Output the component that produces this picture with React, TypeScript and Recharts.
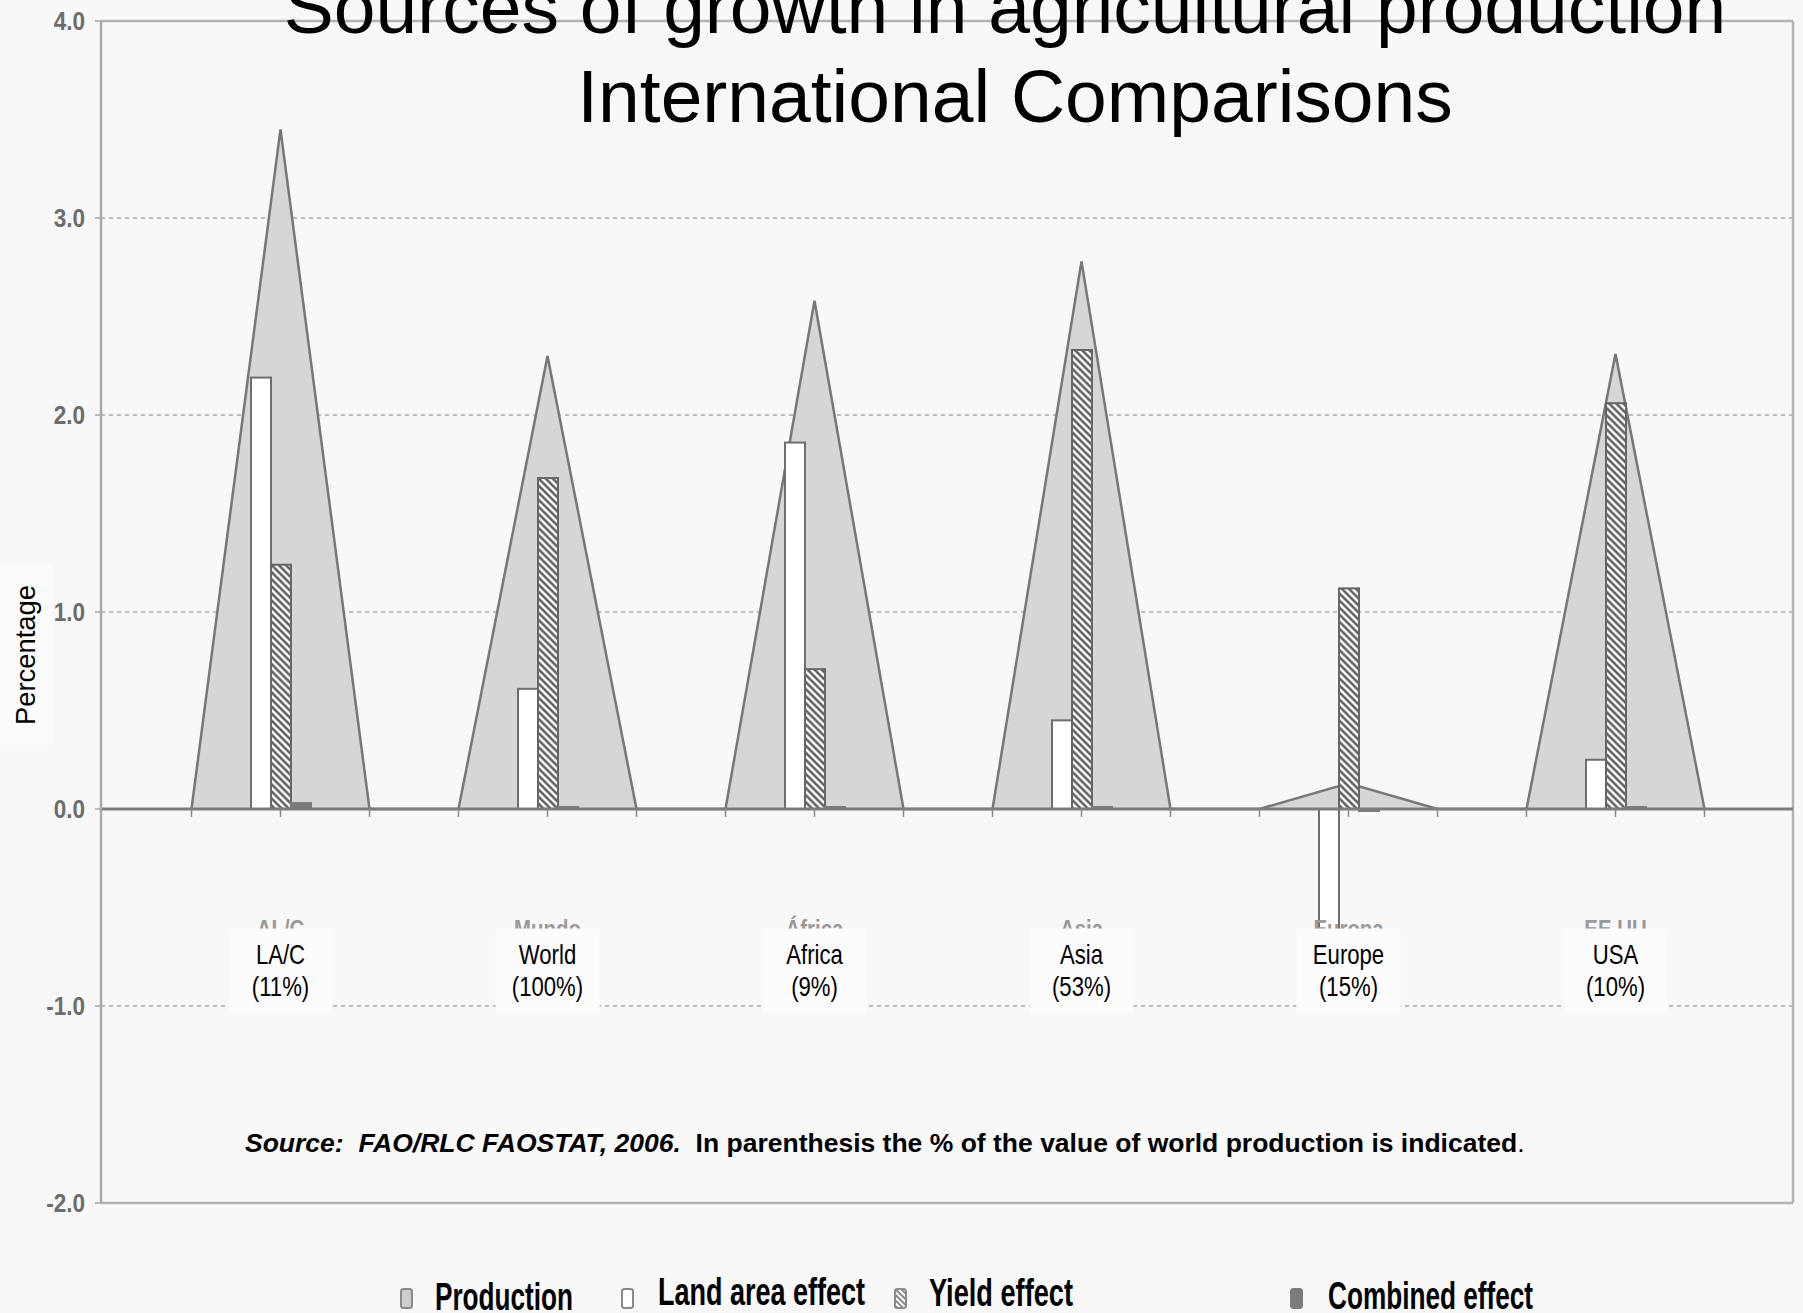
import React from 'react';
import {
  ComposedChart,
  Area,
  Bar,
  XAxis,
  YAxis,
  CartesianGrid,
  ReferenceLine,
  ReferenceDot,
  Legend,
} from 'recharts';

// ---------------- data ----------------
const regions = ['LA/C', 'World', 'Africa', 'Asia', 'Europe', 'USA'];
const shareLabels = ['(11%)', '(100%)', '(9%)', '(53%)', '(15%)', '(10%)'];
const originalLabels = ['AL/C', 'Mundo', 'África', 'Asia', 'Europa', 'EE.UU'];
const productionGrowth = [3.45, 2.3, 2.58, 2.78, 0.13, 2.31];
const landAreaEffect = [2.19, 0.61, 1.86, 0.45, -0.98, 0.25];
const yieldEffect = [1.24, 1.68, 0.71, 2.33, 1.12, 2.06];
const combinedEffect = [0.03, 0.01, 0.01, 0.01, -0.01, 0.01];
const yTicks = [-2, -1, 0, 1, 2, 3, 4];

type Row = {
  key: string;
  production: number;
  land?: number;
  yieldE?: number;
  combined?: number;
};

// each region: base-left point, peak point (with the bars), base-right point
const data: Row[] = regions.flatMap((r, i) => [
  { key: `${r} start`, production: 0 },
  {
    key: r,
    production: productionGrowth[i],
    land: landAreaEffect[i],
    yieldE: yieldEffect[i],
    combined: combinedEffect[i],
  },
  { key: `${r} end`, production: 0 },
]);

const FONT = "'Liberation Sans', Arial, Helvetica, sans-serif";
const BG = '#f8f8f8';

// ---------------- pieces ----------------
const makeBarShape = (dataKey: string, fill: string, stroke: string) => (props: any) => {
  const { x, y, width, height, payload } = props;
  if (!payload || payload[dataKey] == null || !width) return null;
  const top = Math.min(y, y + height);
  const h = Math.max(Math.abs(height), 1.5);
  return <rect x={x} y={top} width={width} height={h} fill={fill} stroke={stroke} strokeWidth={2} />;
};

const YTick = (props: any) => {
  const { x, y, payload } = props;
  return (
    <g transform={`translate(${x},${y})`}>
      <text
        transform="scale(0.9,1)"
        textAnchor="end"
        dy="0.36em"
        fontFamily={FONT}
        fontWeight="bold"
        fontSize={25}
        fill="#6c6c6c"
      >
        {Number(payload.value).toFixed(1)}
      </text>
    </g>
  );
};

const makeLabelBox = (i: number) => (props: any) => {
  const { cx, cy } = props;
  if (cx == null || cy == null) return null;
  return (
    <g>
      <g transform={`translate(${cx},${cy - 34}) scale(0.85,1)`}>
        <text textAnchor="middle" fontFamily={FONT} fontWeight="bold" fontSize={24} fill="#999999">
          {originalLabels[i]}
        </text>
      </g>
      <rect x={cx - 52} y={cy - 42} width={104} height={84} fill="#fcfcfc" />
      <g transform={`translate(${cx},${cy - 7}) scale(0.82,1)`}>
        <text textAnchor="middle" fontFamily={FONT} fontSize={27} fill="#000">
          {regions[i]}
        </text>
      </g>
      <g transform={`translate(${cx},${cy + 25}) scale(0.82,1)`}>
        <text textAnchor="middle" fontFamily={FONT} fontSize={27} fill="#000">
          {shareLabels[i]}
        </text>
      </g>
    </g>
  );
};

const legendItems = [
  { label: 'Production', kind: 'production', sx: 401, tx: 435, ty: 1310, tw: 138 },
  { label: 'Land area effect', kind: 'land', sx: 622, tx: 658, ty: 1305, tw: 207 },
  { label: 'Yield effect', kind: 'yield', sx: 895, tx: 929, ty: 1306, tw: 144 },
  { label: 'Combined effect', kind: 'combined', sx: 1291, tx: 1328, ty: 1309, tw: 205 },
];
const LEGEND_TOP = 1262;

const swatchStyle: Record<string, { fill: string; stroke: string }> = {
  production: { fill: '#cdcdcd', stroke: '#8a8a8a' },
  land: { fill: '#ffffff', stroke: '#8a8a8a' },
  yield: { fill: 'url(#legendHatch)', stroke: '#8a8a8a' },
  combined: { fill: '#7c7c7c', stroke: '#7c7c7c' },
};

const renderLegend = () => (
  <svg width={1803} height={51} style={{ display: 'block', overflow: 'visible' }}>
    <defs>
      <pattern id="legendHatch" patternUnits="userSpaceOnUse" width={4} height={4} patternTransform="rotate(-45)">
        <rect width={4} height={4} fill="#ffffff" />
        <line x1={2} y1={0} x2={2} y2={4} stroke="#6a6a6a" strokeWidth={1.6} />
      </pattern>
    </defs>
    {legendItems.map((it) => (
      <g key={it.label}>
        <rect
          x={it.sx}
          y={1289 - LEGEND_TOP}
          width={11}
          height={19}
          rx={2.5}
          fill={swatchStyle[it.kind].fill}
          stroke={swatchStyle[it.kind].stroke}
          strokeWidth={2}
        />
        <text
          x={it.tx}
          y={it.ty - LEGEND_TOP}
          fontFamily={FONT}
          fontWeight="bold"
          fontSize={39}
          fill="#000"
          textLength={it.tw}
          lengthAdjust="spacingAndGlyphs"
        >
          {it.label}
        </text>
      </g>
    ))}
  </svg>
);

// ---------------- app ----------------
export default function App() {
  return (
    <div style={{ position: 'absolute', left: 0, top: 0, width: 1803, height: 1313, background: BG, overflow: 'hidden' }}>
      <ComposedChart
        width={1803}
        height={1313}
        data={data}
        margin={{ top: 21, right: 10, bottom: 110, left: 0 }}
        barSize={20}
        barGap={0}
      >
        <defs>
          <pattern id="yieldHatch" patternUnits="userSpaceOnUse" width={5} height={5} patternTransform="rotate(-45)">
            <rect width={5} height={5} fill="#ffffff" />
            <line x1={2.5} y1={0} x2={2.5} y2={5} stroke="#4f4f4f" strokeWidth={2.3} />
          </pattern>
        </defs>
        <CartesianGrid vertical={false} stroke="#a9a9a9" strokeDasharray="4 4" strokeWidth={1.6} />
        <CartesianGrid
          horizontal={false}
          verticalCoordinatesGenerator={({ offset }: any) => [offset.left + offset.width]}
          stroke="#b3b3b3"
          strokeWidth={2.5}
        />
        <XAxis dataKey="key" type="category" hide interval={0} padding={{ left: 46, right: 44 }} />
        <YAxis
          type="number"
          domain={[-2, 4]}
          ticks={yTicks}
          interval={0}
          width={101}
          tickSize={6}
          tickMargin={10}
          axisLine={{ stroke: '#a9a9a9', strokeWidth: 2.5 }}
          tickLine={{ stroke: '#a9a9a9', strokeWidth: 1.5 }}
          tick={<YTick />}
        />
        <Area
          type="linear"
          dataKey="production"
          name="Production"
          baseValue={0}
          stroke="#777777"
          strokeWidth={2.5}
          fill="#d6d6d6"
          fillOpacity={1}
          dot={false}
          activeDot={false}
          isAnimationActive={false}
        />
        <Bar dataKey="land" name="Land area effect" isAnimationActive={false} shape={makeBarShape('land', '#ffffff', '#6e6e6e')} />
        <Bar dataKey="yieldE" name="Yield effect" isAnimationActive={false} shape={makeBarShape('yieldE', 'url(#yieldHatch)', '#666666')} />
        <Bar dataKey="combined" name="Combined effect" isAnimationActive={false} shape={makeBarShape('combined', '#7a7a7a', '#7a7a7a')} />

        <ReferenceLine y={4} stroke="#b3b3b3" strokeWidth={2.5} />
        <ReferenceLine y={-2} stroke="#b3b3b3" strokeWidth={2.5} />
        <ReferenceLine y={0} stroke="#7d7d7d" strokeWidth={3} />
        {data.map((d) => (
          <ReferenceLine
            key={`tick-${d.key}`}
            segment={[
              { x: d.key, y: 0 },
              { x: d.key, y: -0.04 },
            ]}
            stroke="#8a8a8a"
            strokeWidth={1.5}
          />
        ))}
        {regions.map((r, i) => (
          <ReferenceDot
            key={`label-${r}`}
            x={r}
            y={-0.82}
            r={0}
            zIndex={2500}
            shape={makeLabelBox(i)}
          />
        ))}
        <Legend
          layout="horizontal"
          verticalAlign="middle"
          align="center"
          content={renderLegend}
          wrapperStyle={{ left: 0, top: LEGEND_TOP, width: 1803, height: 51, pointerEvents: 'none' }}
        />
      </ComposedChart>

      <svg
        width={1803}
        height={1313}
        style={{ position: 'absolute', left: 0, top: 0, pointerEvents: 'none' }}
      >
        <rect x={0} y={565} width={53} height={180} fill="#fbfbfb" />
        <text
          x={35}
          y={655}
          transform="rotate(-90 35 655)"
          textAnchor="middle"
          fontFamily={FONT}
          fontSize={27.4}
          fill="#000"
        >
          Percentage
        </text>
        <text x={1005} y={33} textAnchor="middle" fontFamily={FONT} fontSize={75} fill="#000">
          Sources of growth in agricultural production
        </text>
        <text x={1015} y={122} textAnchor="middle" fontFamily={FONT} fontSize={75} fill="#000">
          International Comparisons
        </text>
        <text x={245} y={1152} fontFamily={FONT} fontSize={26.5} fill="#000" style={{ whiteSpace: 'pre' }}>
          <tspan fontWeight="bold" fontStyle="italic">Source:  FAO/RLC FAOSTAT, 2006.</tspan>
          <tspan fontWeight="bold">  In parenthesis the % of the value of world production is indicated</tspan>
          <tspan>.</tspan>
        </text>
      </svg>
    </div>
  );
}
